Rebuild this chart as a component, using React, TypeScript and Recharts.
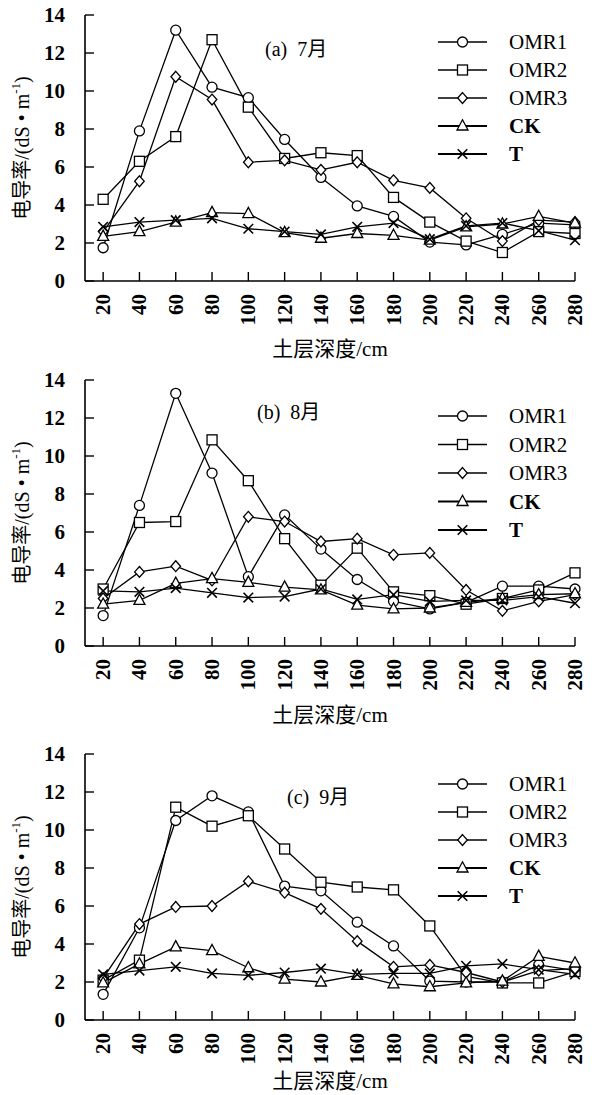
import React from 'react';
import { LineChart, Line, XAxis, YAxis, Legend } from 'recharts';

const depths = [20, 40, 60, 80, 100, 120, 140, 160, 180, 200, 220, 240, 260, 280];
const yTicks = [0, 2, 4, 6, 8, 10, 12, 14];
const seriesNames = ['OMR1', 'OMR2', 'OMR3', 'CK', 'T'];
const markerShapes = ['circle', 'square', 'diamond', 'triangle', 'cross'];

// (a) July
const julOMR1 = [1.75, 7.9, 13.2, 10.2, 9.65, 7.45, 5.45, 3.95, 3.4, 2.05, 1.9, 2.45, 3.05, 2.95];
const julOMR2 = [4.3, 6.3, 7.6, 12.7, 9.15, 6.45, 6.75, 6.6, 4.4, 3.1, 2.1, 1.5, 2.6, 2.5];
const julOMR3 = [2.6, 5.25, 10.75, 9.55, 6.25, 6.35, 5.85, 6.25, 5.3, 4.9, 3.3, 2.1, 3.2, 3.1];
const julCK = [2.35, 2.6, 3.1, 3.6, 3.55, 2.55, 2.25, 2.5, 2.4, 2.15, 2.85, 3.0, 3.4, 3.05];
const julT = [2.85, 3.1, 3.2, 3.3, 2.75, 2.6, 2.45, 2.85, 3.05, 2.2, 2.9, 3.05, 2.65, 2.15];

// (b) August
const augOMR1 = [1.6, 7.4, 13.3, 9.1, 3.65, 6.9, 5.1, 3.5, 2.35, 1.95, 2.3, 3.15, 3.15, 3.0];
const augOMR2 = [3.0, 6.5, 6.55, 10.85, 8.7, 5.65, 3.2, 5.15, 2.85, 2.65, 2.2, 2.5, 2.95, 3.85];
const augOMR3 = [2.5, 3.9, 4.2, 3.45, 6.8, 6.55, 5.5, 5.65, 4.8, 4.9, 2.95, 1.85, 2.35, 2.7];
const augCK = [2.2, 2.4, 3.3, 3.55, 3.35, 3.1, 2.95, 2.15, 1.95, 2.0, 2.3, 2.5, 2.7, 2.75];
const augT = [2.9, 2.85, 3.05, 2.8, 2.55, 2.6, 3.0, 2.45, 2.7, 2.35, 2.4, 2.4, 2.6, 2.25];

// (c) September
const sepOMR1 = [1.35, 4.85, 10.5, 11.8, 10.95, 7.05, 6.8, 5.15, 3.9, 2.05, 2.0, 2.0, 2.9, 2.6];
const sepOMR2 = [2.1, 3.15, 11.2, 10.2, 10.75, 9.0, 7.25, 7.0, 6.85, 4.95, 2.3, 1.95, 1.95, 2.55];
const sepOMR3 = [2.2, 5.05, 5.95, 6.0, 7.3, 6.7, 5.85, 4.15, 2.8, 2.9, 2.5, 2.0, 2.6, 2.7];
const sepCK = [1.95, 2.95, 3.85, 3.65, 2.75, 2.15, 2.0, 2.35, 1.9, 1.75, 1.95, 2.05, 3.35, 3.0];
const sepT = [2.4, 2.6, 2.8, 2.45, 2.35, 2.5, 2.7, 2.4, 2.45, 2.45, 2.85, 2.95, 2.65, 2.4];

const panelTitles = ['(a)  7月', '(b)  8月', '(c)  9月'];
const panelSeries = [
  [julOMR1, julOMR2, julOMR3, julCK, julT],
  [augOMR1, augOMR2, augOMR3, augCK, augT],
  [sepOMR1, sepOMR2, sepOMR3, sepCK, sepT],
];

const FONT = "'Liberation Serif', 'Times New Roman', 'Noto Sans CJK SC', serif";

const layouts = [
  { top: 0, height: 365, legendTop: 42, legendGap: 28, titleX: 265, titleY: 49, xLabelDy: 68 },
  { top: 365, height: 374, legendTop: 51, legendGap: 28.5, titleX: 257, titleY: 47, xLabelDy: 69 },
  { top: 739, height: 356, legendTop: 45, legendGap: 28, titleX: 287, titleY: 58, xLabelDy: 61 },
];

function Marker({ shape, cx, cy }: { shape: string; cx: number; cy: number }) {
  const sw = 1.3;
  if (cx == null || cy == null) return null;
  switch (shape) {
    case 'circle':
      return <circle cx={cx} cy={cy} r={5} fill="#fff" stroke="#000" strokeWidth={sw} />;
    case 'square':
      return <rect x={cx - 5} y={cy - 5} width={10} height={10} fill="#fff" stroke="#000" strokeWidth={sw} />;
    case 'diamond':
      return (
        <path d={`M${cx},${cy - 5.4}L${cx + 4.8},${cy}L${cx},${cy + 5.4}L${cx - 4.8},${cy}Z`} fill="#fff" stroke="#000" strokeWidth={sw} />
      );
    case 'triangle':
      return (
        <path d={`M${cx},${cy - 6.2}L${cx + 5.5},${cy + 4}L${cx - 5.5},${cy + 4}Z`} fill="#fff" stroke="#000" strokeWidth={sw} />
      );
    default:
      return (
        <path d={`M${cx - 4.8},${cy - 4.8}L${cx + 4.8},${cy + 4.8}M${cx + 4.8},${cy - 4.8}L${cx - 4.8},${cy + 4.8}`} fill="none" stroke="#000" strokeWidth={1.6} />
      );
  }
}

const XTick = (props: any) => {
  const { x, y, payload } = props;
  return (
    <text x={x} y={y} transform={`rotate(-90 ${x} ${y})`} textAnchor="end" dominantBaseline="central" fontFamily={FONT} fontSize={21} fontWeight="bold" fill="#000">
      {payload.value}
    </text>
  );
};

const YTick = (props: any) => {
  const { x, y, payload } = props;
  return (
    <text x={x} y={y} textAnchor="end" dominantBaseline="central" fontFamily={FONT} fontSize={21} fontWeight="bold" fill="#000">
      {payload.value}
    </text>
  );
};

const YLabel = (props: any) => {
  const vb = props.viewBox || {};
  const x = (vb.x || 0) + 22;
  const y = (vb.y || 0) + (vb.height || 0) / 2;
  return (
    <text x={x} y={y} transform={`rotate(-90 ${x} ${y})`} textAnchor="middle" dominantBaseline="central" fontFamily={FONT} fontSize={20} fill="#000">
      电导率/(dS • m<tspan dy={-7} fontSize={13}>-1</tspan><tspan dy={7}>)</tspan>
    </text>
  );
};

const makeXLabel = (dy: number) => (props: any) => {
  const vb = props.viewBox || {};
  const x = (vb.x || 0) + (vb.width || 0) / 2;
  const y = (vb.y || 0) + dy;
  return (
    <text x={x} y={y} textAnchor="middle" dominantBaseline="central" fontFamily={FONT} fontSize={21} fill="#000">
      土层深度/cm
    </text>
  );
};

const makeLegend = (gap: number) => () => {
  return (
    <svg width={160} height={160} style={{ overflow: 'visible', display: 'block' }}>
      {seriesNames.map((name, i) => {
        const cy = 10 + i * gap;
        const heavy = i >= 3;
        return (
          <g key={name}>
            <line x1={0} x2={49} y1={cy} y2={cy} stroke="#000" strokeWidth={heavy ? 2 : 1.3} />
            <Marker shape={markerShapes[i]} cx={24.5} cy={cy} />
            <text x={71} y={cy} dominantBaseline="central" fontFamily={FONT} fontSize={21} fontWeight={heavy ? 'bold' : 'normal'} fill="#000">
              {name}
            </text>
          </g>
        );
      })}
    </svg>
  );
};

function Panel({ idx }: { idx: number }) {
  const lay = layouts[idx];
  const series = panelSeries[idx];
  const data = depths.map((d, i) => {
    const row: any = { depth: d };
    seriesNames.forEach((n, s) => {
      row[n] = series[s][i];
    });
    return row;
  });
  const xAxisHeight = lay.height - 15 - 266;
  return (
    <div style={{ position: 'absolute', left: 0, top: lay.top, width: 592, height: lay.height }}>
      <LineChart width={592} height={lay.height} data={data} margin={{ top: 15, right: 17, left: 0, bottom: 0 }}>
        <XAxis
          dataKey="depth"
          type="number"
          domain={[10, 280]}
          ticks={depths}
          interval={0}
          height={xAxisHeight}
          tickSize={-9}
          tickMargin={22}
          axisLine={{ stroke: '#000', strokeWidth: 1.6 }}
          tickLine={{ stroke: '#000', strokeWidth: 1.4 }}
          tick={<XTick />}
          label={makeXLabel(lay.xLabelDy)}
        />
        <YAxis
          type="number"
          domain={[0, 14]}
          ticks={yTicks}
          interval={0}
          width={85}
          tickSize={-9}
          tickMargin={29}
          axisLine={{ stroke: '#000', strokeWidth: 1.6 }}
          tickLine={{ stroke: '#000', strokeWidth: 1.4 }}
          tick={<YTick />}
          label={YLabel}
        />
        <Legend
          layout="vertical"
          align="center"
          verticalAlign="middle"
          content={makeLegend(lay.legendGap)}
          wrapperStyle={{ left: 438, top: lay.legendTop - 10, width: 160, height: 160 }}
        />
        {seriesNames.map((n, s) => (
          <Line
            key={n}
            name={n}
            dataKey={n}
            type="linear"
            stroke="#000"
            strokeWidth={1.3}
            isAnimationActive={false}
            activeDot={false}
            dot={(p: any) => <Marker key={`${n}-${p.index}`} shape={markerShapes[s]} cx={p.cx} cy={p.cy} />}
          />
        ))}
      </LineChart>
      <div
        style={{
          position: 'absolute',
          left: lay.titleX,
          top: lay.titleY - 12,
          fontFamily: FONT,
          fontSize: 20,
          lineHeight: '24px',
          whiteSpace: 'pre',
          color: '#000',
        }}
      >
        {panelTitles[idx]}
      </div>
    </div>
  );
}

export default function App() {
  return (
    <div style={{ position: 'absolute', left: 0, top: 0, width: 592, height: 1095, background: '#fff' }}>
      <Panel idx={0} />
      <Panel idx={1} />
      <Panel idx={2} />
    </div>
  );
}
